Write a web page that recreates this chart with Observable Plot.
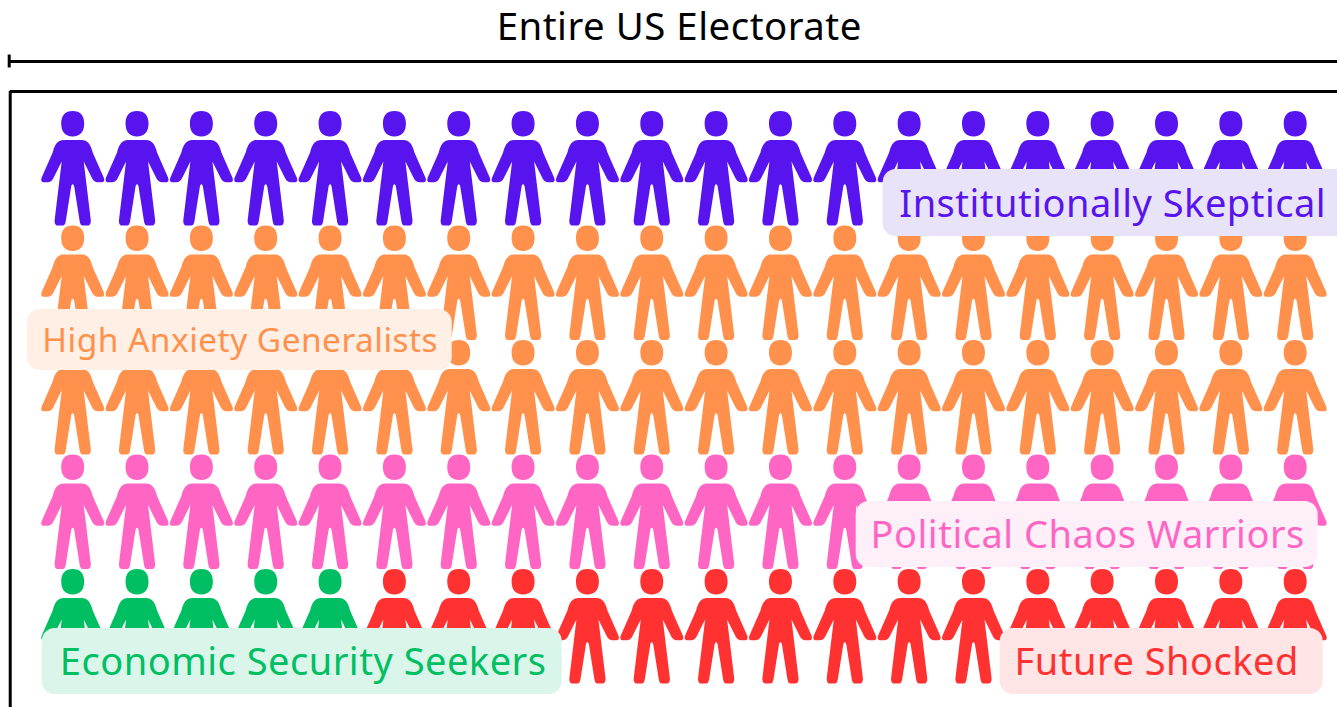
<!DOCTYPE html>
<html>
<head>
<meta charset="utf-8">
<script src="https://cdn.jsdelivr.net/npm/d3@7"></script>
<script src="https://cdn.jsdelivr.net/npm/@observablehq/plot@0.6"></script>
<style>html,body{margin:0;padding:0;background:#fff;overflow:hidden}svg{display:block}</style>
</head>
<body>
<div id="chart"></div>
<script>
const segments = ["Institutionally Skeptical","High Anxiety Generalists","Political Chaos Warriors","Economic Security Seekers","Future Shocked"];
const counts = [20, 40, 20, 5, 15];
const colors = ["#5714EE","#FF914D","#FF66C4","#00BF63","#FF3131"];
const tints = ["#E8E3F9","#FFEFE5","#FFEFF8","#DAF5E9","#FFE5E5"];
const titleText = "Entire US Electorate";
const columnsPerRow = 20;

// Label layout in column / row units of the chart's scales
const boxX1 = [13.597, 0.293, 13.177, 0.526, 15.415];
const boxX2 = [21, 6.898, 20.357, 8.608, 20.435];
const boxY1 = [1.009, 2.231, 3.908, 5.017, 5.017];
const boxY2 = [1.594, 2.764, 4.485, 5.594, 5.594];
const textX = [17.163, 3.603, 16.775, 4.582, 17.848];
const textY = [1.314, 2.511, 4.205, 5.314, 5.314];
const textSize = [38, 33.4, 38, 38, 38];

const people = segments.flatMap((s, i) => d3.range(counts[i]).map(() => s))
  .map((segment, i) => ({segment, column: i % columnsPerRow + 1, row: Math.floor(i / columnsPerRow) + 1}));
const labels = segments.map((segment, i) => ({
  segment, tint: tints[i], x1: boxX1[i], x2: boxX2[i], y1: boxY1[i], y2: boxY2[i],
  x: textX[i], y: textY[i], size: textSize[i]
}));

const person = {
  draw(c, size) {
    const k = Math.sqrt(size / Math.PI);
    const M = (x, y) => c.moveTo(x * k, y * k);
    const L = (x, y) => c.lineTo(x * k, y * k);
    const B = (a, b, d, e, f, g) => c.bezierCurveTo(a * k, b * k, d * k, e * k, f * k, g * k);
    // head
    M(0, -57.5);
    B(7.5, -57.5, 11.5, -53, 11.5, -45);
    B(11.5, -37, 7.5, -32, 0, -32);
    B(-7.5, -32, -11.5, -37, -11.5, -45);
    B(-11.5, -53, -7.5, -57.5, 0, -57.5);
    c.closePath();
    // body
    M(-9, -28.5);
    L(9, -28.5);
    B(14.5, -28.5, 18, -24.5, 20, -16);
    L(31, 9);
    B(32, 11.5, 31.5, 13.7, 29.5, 13.7);
    L(25, 13.7);
    B(22.5, 13.7, 21, 12.5, 19.5, 10);
    L(11, -7);
    L(18, 51);
    B(18.5, 55, 17, 57, 15, 57);
    L(10, 57);
    B(8, 57, 7.5, 55, 7, 53);
    L(1.5, 18);
    B(0.8, 15, -0.8, 15, -1.5, 18);
    L(-7, 53);
    B(-7.5, 55, -8, 57, -10, 57);
    L(-15, 57);
    B(-17, 57, -18.5, 55, -18, 51);
    L(-11, -7);
    L(-19.5, 10);
    B(-21, 12.5, -22.5, 13.7, -25, 13.7);
    L(-29.5, 13.7);
    B(-31.5, 13.7, -32, 11.5, -31, 9);
    L(-20, -16);
    B(-18, -24.5, -14.5, -28.5, -9, -28.5);
    c.closePath();
  }
};

const font = "'Noto Sans', sans-serif";
const plot = Plot.plot({
  width: 1337,
  height: 707,
  margin: 0,
  style: {background: "#fff", fontFamily: font, letterSpacing: "0.5px"},
  x: {domain: [1, 20], range: [72.2, 1294.7], axis: null},
  y: {domain: [1, 5], range: [168, 626], axis: null},
  color: {domain: segments, range: colors},
  marks: [
    Plot.text([titleText], {x: 10.427, y: -0.232, text: d => d, fontSize: 38.4, fill: "#000", fontFamily: font}),
    Plot.ruleY([0.0655], {x1: 0.013, x2: 21, stroke: "#000", strokeWidth: 3}),
    Plot.ruleX([0.013], {y1: 0.009, y2: 0.122, stroke: "#000", strokeWidth: 3}),
    Plot.ruleY([0.3275], {x1: 0.029, x2: 21, stroke: "#000", strokeWidth: 3}),
    Plot.ruleX([0.029], {y1: 0.3275, y2: 5.707, stroke: "#000", strokeWidth: 3}),
    Plot.dot(people, {x: "column", y: "row", fill: "segment", symbol: person, r: 1}),
    Plot.rect(labels, {x1: "x1", x2: "x2", y1: "y1", y2: "y2", fill: "tint", rx: 13}),
    Plot.text(labels, {x: "x", y: "y", text: "segment", fill: "segment", fontSize: "size", fontFamily: font})
  ]
});
document.getElementById("chart").appendChild(plot);
</script>
</body>
</html>
